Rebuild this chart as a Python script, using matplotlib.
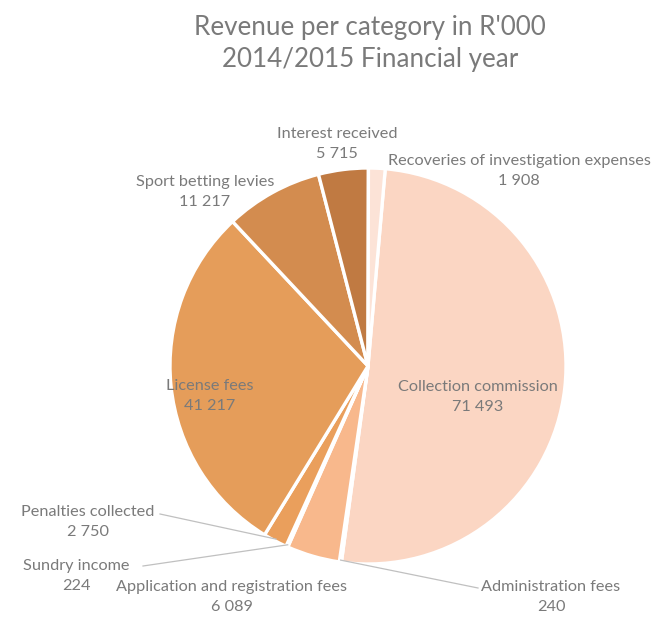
import numpy as np
import matplotlib.pyplot as plt

# revenue per category, R'000, in clockwise order from the top
categories = ["Collection commission", "Administration fees",
              "Application and registration fees", "Sundry income",
              "Penalties collected", "License fees", "Sport betting levies",
              "Interest received", "Recoveries of investigation expenses"]
revenue = [71493, 240, 6089, 224, 2750, 41217, 11217, 5715, 1908]
colors = ["#FBD6C3", "#FCE0D0", "#F8B88C", "#F0A868", "#EA9F5C",
          "#E59D5A", "#D38C4F", "#C07A42", "#FCE3D7"]

W, H = 653, 617
fig = plt.figure(figsize=(W / 100, H / 100), dpi=100)
plt.rcParams['font.family'] = ['Lato', 'DejaVu Sans']

# pie centre and radius in pixels
cx, cy, r = 368, 366, 198
ax = fig.add_axes([(cx - r) / W, (H - cy - r) / H, 2 * r / W, 2 * r / H])
wedges, _ = ax.pie(revenue, colors=colors, startangle=85, counterclock=False,
                   wedgeprops=dict(edgecolor="white", linewidth=2.4))
ax.set_xlim(-1, 1)
ax.set_ylim(-1, 1)
ax.set_aspect("equal")
ax.axis("off")

def px(x, y):
    return x / W, 1 - y / H

def fmt(v):
    return f"{v:,}".replace(",", " ")

gray = "#7a7a7a"
fig.text(*px(370, 28), "Revenue per category in R'000", ha="center", va="center",
         fontsize=18.7, color=gray)
fig.text(*px(370, 60), "2014/2015 Financial year", ha="center", va="center",
         fontsize=18.7, color=gray)

# label centres in pixels
label_pos = {
    "Collection commission": (478, 397),
    "Administration fees": (551, 597),
    "Application and registration fees": (232, 597),
    "Sundry income": (76, 576),
    "Penalties collected": (88, 522),
    "License fees": (210, 396),
    "Sport betting levies": (205, 192),
    "Interest received": (337, 144),
    "Recoveries of investigation expenses": (519, 171),
}
for name, val in zip(categories, revenue):
    x, y = label_pos[name]
    fig.text(*px(x, y), f"{name}\n{fmt(val)}", ha="center", va="center",
             fontsize=11.7, color=gray, linespacing=1.6)

# leader lines for the thin slices
leaders = {
    "Administration fees": (478, 588),
    "Sundry income": (143, 566),
    "Penalties collected": (160, 514),
}
for name, (lx, ly) in leaders.items():
    w = wedges[categories.index(name)]
    a = np.deg2rad((w.theta1 + w.theta2) / 2)
    ex, ey = cx + 0.99 * r * np.cos(a), cy - 0.99 * r * np.sin(a)
    fig.add_artist(plt.Line2D([lx / W, ex / W], [1 - ly / H, 1 - ey / H],
                              color="#c0c0c0", linewidth=0.9))

fig.savefig("out.png", dpi=100)
